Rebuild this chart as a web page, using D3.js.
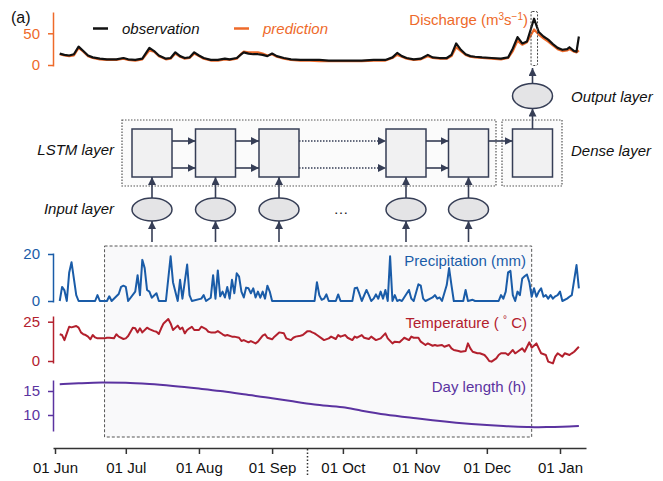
<!DOCTYPE html>
<html>
<head>
<meta charset="utf-8">
<script src="https://cdn.jsdelivr.net/npm/d3@7"></script>
<style>
  body { margin: 0; background: #fff; }
  text { font-family: "Liberation Sans", Arial, sans-serif; }
</style>
</head>
<body>
<div class="canvas"></div>
<script>
// discharge (m3/s), days counted from 01 Jun
const qDays = [2,4,6,8,10,12,14,16,19,22,26,29,31,34,37,40,42,44,47,49,51,53,55,57,59,61,63,66,69,72,74,77,79,80,82,84,86,88,90,92,94,97,100,104,108,112,116,120,125,130,135,140,143,145,147,149,152,155,158,160,163,166,168,170,172,174,176,178,181,185,189,192,194,196,198,200,203,205,207,209,211,213,215,217,218,220,221,222]
const qObs = [18,16,15,17,29,22,15,12,10,9,9,11,9,8,10,27,22,15,10,11,20,14,11,12,20,15,11,8,8,10,9,11,17,20,18,17,17,16,14,18,14,11,9,8,8,8,7,7,7,7,8,8,12,19,14,11,9,10,16,12,11,11,16,34,24,17,14,13,12,11,10,12,26,44,34,37,73,52,45,40,33,27,24,25,28,22,21,45]
const qPred = [17,15,14,15,27,21,14,11,9,8,8,10,8,7,9,23,21,14,9,10,18,13,10,11,18,14,10,7,7,9,8,10,18,21,20,20,20,18,15,17,13,10,8,7,7,6,6,6,6,6,7,7,11,16,13,10,8,9,14,11,10,10,14,28,22,16,13,12,11,10,9,11,22,38,32,36,56,48,42,37,31,25,22,23,25,21,20,23]

// precipitation (mm)
const pDays = [2,3,4,5,6,7,9,10,17,18,19,22,23,24,27,28,29,30,31,34,35,36,37,38,39,40,41,43,44,47,49,50,52,53,54,56,57,58,62,63,64,66,67,68,69,70,71,72,73,74,75,76,77,78,79,80,81,82,83,84,85,86,87,88,89,90,91,92,110,111,112,113,114,115,116,119,120,121,126,127,128,129,130,132,133,134,135,136,137,138,139,140,141,142,143,144,145,146,147,150,151,152,154,155,156,157,159,160,161,162,163,164,166,167,168,169,173,174,175,177,178,188,189,190,191,192,193,194,195,196,197,198,199,200,201,202,203,204,205,206,207,208,209,210,211,212,213,214,215,217,218,219,221,222]
const pVals = [0,6,4.5,0,12,16.5,2.5,0,0,2.5,0,0,2,0,3,6,6.5,6,0,4,11,2.5,17.5,14,4.7,4,1.4,3.3,0,0,19,8,0,9,1,15.5,2.5,0,1,2.5,0,1.4,11,1,13,2,4,1.5,6,1,9,3.3,11.8,10.4,4,1.5,5.7,5.4,3.3,5.4,1.5,4,1.4,4,1,6.5,4,0,0,8,2.5,0.5,1,2.8,0,0,2.8,0,0,5.4,5.7,3,0,4.7,2.5,0,1,2.8,1,4,1,4.7,0,19,0,2.5,0,0.5,0,4.7,1,0,7.1,6.5,1,0,1,1.5,2.5,1,1.5,0,6.8,14,6.8,0,0,4.7,0,0.5,0,0,2.5,1,4,12.2,12.8,2.5,0,4,2.5,9.6,10.5,11.3,8,1.8,5.4,1.8,4,5.4,1.8,2.5,1,2.5,1,2,2.5,4,0,1,1.8,2.5,15.3,5.4]

// temperature (deg C)
const tDays = [2,3,4,5,6,7,9,10,11,12,13,14,15,16,17,18,19,21,22,23,25,26,27,29,30,31,33,34,35,36,37,39,40,42,43,44,45,46,48,49,50,52,53,54,55,56,57,58,59,61,62,64,65,66,68,69,71,72,73,75,76,78,79,80,82,83,85,86,88,89,90,92,93,95,97,98,100,101,102,104,105,107,108,109,110,111,113,114,116,117,119,120,121,123,124,126,127,128,130,131,133,134,136,138,140,141,143,144,146,147,148,150,151,152,154,155,157,158,160,161,162,164,165,167,168,169,171,172,174,175,176,177,179,180,182,183,184,185,187,188,189,191,192,194,195,196,198,199,201,202,204,205,206,208,209,211,212,213,215,216,218,219,220,222]
const tVals = [17,16.5,13.3,17.6,21.8,21.4,22.3,21.2,18.2,17,16.5,15.5,13.8,16.5,15,14.4,14.4,14.4,14.8,14.8,14.4,17,15.5,14,14.4,15.9,21.2,20.8,18.2,20.8,18.2,21.2,20.3,19,18.6,17.2,20.8,23.9,26.7,23.9,19.7,22.5,20.3,21.2,17.6,19.7,20.8,21.8,19.7,19.7,21.8,20.3,18.6,18.2,18.2,19,17,16.1,16.5,15.5,15.5,14.8,12.7,13.3,11.9,12.7,11.2,12.3,16.1,17,14.8,13.8,15.5,18.2,17.6,14.4,13.3,14.8,15.5,16.1,16.5,19,19,18.2,17.6,16.5,14.4,13.3,14.4,15.5,14,16.5,15.5,16.5,14.8,13.3,15.5,14.8,16.5,14.8,14,15.5,13.3,14.4,17.6,14.4,11.2,12.3,11.9,13.3,14.8,13.3,15.5,14.8,14.8,12.3,10.2,11.2,9.7,10.2,9.7,10.2,9.1,10.2,8,7,6.4,5.9,6.4,11.2,8,5.9,4.9,4.9,3.8,2.1,0,-0.4,1.7,3.8,4.9,4.9,3.8,7,4.9,5.9,8,5.9,11.9,8.5,11.2,8,4.9,3.8,-0.4,-1.5,2.8,4.9,2.8,4.9,3.8,4.9,5.9,9.1]

// day length (h)
const dlDays = [2,10,20,30,40,50,61,70,80,92,100,110,122,130,140,153,160,170,183,190,200,205,210,215,222]
const dlVals = [16.4,16.6,16.75,16.7,16.45,16.05,15.5,15.0,14.3,13.5,12.9,12.2,11.6,10.9,10.1,9.3,8.9,8.4,7.9,7.7,7.5,7.45,7.5,7.55,7.7]

const monthTicks = ["2018-06-01","2018-07-01","2018-08-01","2018-09-01","2018-10-01","2018-11-01","2018-12-01","2019-01-01"]
const windowDays = [21, 202]   // input window (shaded box)
const targetDay = 203          // predicted day
const splitDay = 107           // dotted split below the axis

const cOrange = '#ee6a2a', cBlue = '#1a5ca8', cRed = '#b3202d', cPurple = '#5b33a0', cDiag = '#363e56'

const start = new Date(2018, 5, 1)
const toDate = d => d3.timeDay.offset(start, d)
const parse = d3.timeParse('%Y-%m-%d')

const x = d3.scaleTime()
    .domain([start, new Date(2019, 0, 1)])
    .range([55, 560])
const xAxisScale = x.copy().domain([x.invert(53), x.invert(586)]).range([53, 586])

const svg = d3.select('.canvas').append('svg')
    .attr('width', 663)
    .attr('height', 481)
    .style('background', '#fff')

svg.append('defs').append('marker')
    .attr('id', 'arr')
    .attr('viewBox', '0 0 10 10')
    .attr('refX', 10).attr('refY', 5)
    .attr('markerUnits', 'userSpaceOnUse')
    .attr('markerWidth', 8).attr('markerHeight', 8)
    .attr('orient', 'auto')
  .append('path')
    .attr('d', 'M0,0L10,5L0,10z')
    .attr('fill', cDiag)

// shaded input window
svg.append('rect')
    .attr('x', x(toDate(windowDays[0])))
    .attr('y', 246)
    .attr('width', x(toDate(windowDays[1])) - x(toDate(windowDays[0])))
    .attr('height', 191)
    .attr('fill', '#f9f9fa')
    .attr('stroke', '#555')
    .attr('stroke-width', 1)
    .attr('stroke-dasharray', '3,2')

// helper for a left axis
function leftAxis(scale, lo, hi, ticks, color) {
    const s = scale.copy().domain([scale.invert(hi), scale.invert(lo)]).range([hi, lo])
    const g = svg.append('g')
        .attr('transform', 'translate(53,0)')
        .call(d3.axisLeft(s).tickValues(ticks).tickSize(5).tickSizeOuter(0).tickPadding(8))
    g.select('.domain').attr('stroke', color).attr('stroke-width', 1.5)
    g.selectAll('.tick line').attr('stroke', color).attr('stroke-width', 1.5)
    g.selectAll('.tick text').attr('fill', color).style('font-size', '15px').style('font-family', '"Liberation Sans", Arial, sans-serif')
}

// ---------- discharge ----------
const yQ = d3.scaleLinear().domain([0, 50]).range([65, 33.3])
leftAxis(yQ, 12, 66, [0, 50], cOrange)

const lineQ = vals => d3.line()
    .x((d, i) => x(toDate(qDays[i])))
    .y(d => yQ(d))(vals)

svg.append('path').attr('d', lineQ(qPred))
    .attr('fill', 'none').attr('stroke', cOrange).attr('stroke-width', 2.2).attr('stroke-linejoin', 'round')
svg.append('path').attr('d', lineQ(qObs))
    .attr('fill', 'none').attr('stroke', '#111').attr('stroke-width', 2.2).attr('stroke-linejoin', 'round')

svg.append('rect')
    .attr('x', x(toDate(targetDay)) - 3)
    .attr('y', 11.5)
    .attr('width', 6.5)
    .attr('height', 54)
    .attr('rx', 1.5)
    .attr('fill', 'none')
    .attr('stroke', '#444')
    .attr('stroke-width', 1)
    .attr('stroke-dasharray', '2,1.5')

// legend
svg.append('line').attr('x1', 93).attr('x2', 108).attr('y1', 28.5).attr('y2', 28.5).attr('stroke', '#111').attr('stroke-width', 2.5)
svg.append('text').attr('x', 122).attr('y', 34).text('observation')
    .attr('fill', '#111').style('font-style', 'italic').style('font-size', '15px')
svg.append('line').attr('x1', 234).attr('x2', 249).attr('y1', 28.5).attr('y2', 28.5).attr('stroke', cOrange).attr('stroke-width', 2.5)
svg.append('text').attr('x', 263).attr('y', 34).text('prediction')
    .attr('fill', cOrange).style('font-style', 'italic').style('font-size', '15px')

const qLab = svg.append('text').attr('x', 528).attr('y', 25).attr('text-anchor', 'end')
    .attr('fill', cOrange).style('font-size', '15px')
qLab.append('tspan').text('Discharge (m')
qLab.append('tspan').text('3').attr('baseline-shift', 'super').style('font-size', '10px')
qLab.append('tspan').text('s')
qLab.append('tspan').text('−1').attr('baseline-shift', 'super').style('font-size', '10px')
qLab.append('tspan').text(')')

svg.append('text').attr('x', 11).attr('y', 23).text('(a)')
    .attr('fill', '#111').style('font-size', '16px')

// ---------- network schematic ----------
const cellX = [152, 215.5, 279, 406, 468.5]
const denseX = 532.5
const cellTop = 129, cellH = 48, cellW = 40

function arrow(x1, y1, x2, y2, dotted) {
    svg.append('line')
        .attr('x1', x1).attr('y1', y1).attr('x2', x2).attr('y2', y2)
        .attr('stroke', cDiag).attr('stroke-width', dotted ? 1.3 : 1.6)
        .attr('stroke-dasharray', dotted ? '1.5,1.5' : null)
        .attr('marker-end', 'url(#arr)')
}

svg.append('rect').attr('x', 122).attr('y', 120).attr('width', 374).attr('height', 66)
    .attr('fill', '#fbfbfb').attr('stroke', '#555').attr('stroke-width', 1.2).attr('stroke-dasharray', '1.5,1.5')
svg.append('rect').attr('x', 502).attr('y', 120).attr('width', 60).attr('height', 66)
    .attr('fill', '#fbfbfb').attr('stroke', '#555').attr('stroke-width', 1.2).attr('stroke-dasharray', '1.5,1.5')

cellX.concat([denseX]).forEach(cx => {
    svg.append('rect')
        .attr('x', cx - cellW / 2).attr('y', cellTop).attr('width', cellW).attr('height', cellH)
        .attr('fill', '#f1f1f2').attr('stroke', cDiag).attr('stroke-width', 1.5)
})

cellX.forEach((cx, i) => {
    svg.append('ellipse').attr('cx', cx).attr('cy', 209.5).attr('rx', 20).attr('ry', 11.5)
        .attr('fill', '#e4e4e6').attr('stroke', cDiag).attr('stroke-width', 1.5)
    arrow(cx, 198, cx, cellTop + cellH)
    arrow(cx, 242, cx, 221)
    if (i < cellX.length - 1) {
        const dotted = i === 2
        ;[141, 168].forEach(yy => arrow(cx + cellW / 2, yy, cellX[i + 1] - cellW / 2, yy, dotted))
    }
})
arrow(cellX[4] + cellW / 2, 141, denseX - cellW / 2, 141)

svg.append('ellipse').attr('cx', denseX).attr('cy', 96).attr('rx', 20).attr('ry', 12.5)
    .attr('fill', '#e4e4e6').attr('stroke', cDiag).attr('stroke-width', 1.5)
arrow(denseX, cellTop, denseX, 108.5)
arrow(denseX, 83.5, denseX, 68)

svg.append('text').attr('x', 341).attr('y', 214).attr('text-anchor', 'middle').text('…')
    .attr('fill', '#222').style('font-size', '15px')

const layerLab = [
    ['Output layer', 571, 102, 'start'],
    ['Dense layer', 571, 156, 'start'],
    ['LSTM layer', 114, 155, 'end'],
    ['Input layer', 114, 214, 'end']
]
layerLab.forEach(l => {
    svg.append('text').attr('x', l[1]).attr('y', l[2]).attr('text-anchor', l[3]).text(l[0])
        .attr('fill', '#111').style('font-style', 'italic').style('font-size', '15px')
})

// ---------- precipitation ----------
const yP = d3.scaleLinear().domain([0, 20]).range([301, 254])
leftAxis(yP, 253, 302, [0, 20], cBlue)
svg.append('path')
    .attr('d', d3.line().x((d, i) => x(toDate(pDays[i]))).y(d => yP(d))(pVals))
    .attr('fill', 'none').attr('stroke', cBlue).attr('stroke-width', 2).attr('stroke-linejoin', 'round')
svg.append('text').attr('x', 526).attr('y', 266).attr('text-anchor', 'end').text('Precipitation (mm)')
    .attr('fill', cBlue).style('font-size', '15px')

// ---------- temperature ----------
const yT = d3.scaleLinear().domain([0, 25]).range([361, 321.7])
leftAxis(yT, 316, 363, [0, 25], cRed)
svg.append('path')
    .attr('d', d3.line().x((d, i) => x(toDate(tDays[i]))).y(d => yT(d))(tVals))
    .attr('fill', 'none').attr('stroke', cRed).attr('stroke-width', 2).attr('stroke-linejoin', 'round')
const tLab = svg.append('text').attr('x', 527).attr('y', 328).attr('text-anchor', 'end')
    .attr('fill', cRed).style('font-size', '15px')
tLab.append('tspan').text('Temperature ( ')
tLab.append('tspan').text('°').attr('baseline-shift', 'super').style('font-size', '10px')
tLab.append('tspan').text(' C)')

// ---------- day length ----------
const yD = d3.scaleLinear().domain([10, 15]).range([415, 391])
leftAxis(yD, 380, 431, [10, 15], cPurple)
svg.append('path')
    .attr('d', d3.line().curve(d3.curveMonotoneX).x((d, i) => x(toDate(dlDays[i]))).y(d => yD(d))(dlVals))
    .attr('fill', 'none').attr('stroke', cPurple).attr('stroke-width', 2)
svg.append('text').attr('x', 526).attr('y', 392).attr('text-anchor', 'end').text('Day length (h)')
    .attr('fill', cPurple).style('font-size', '15px')

// ---------- time axis ----------
const gx = svg.append('g')
    .attr('transform', 'translate(0,448)')
    .call(d3.axisBottom(xAxisScale)
        .tickValues(monthTicks.map(parse))
        .tickFormat(d3.timeFormat('%d %b'))
        .tickSize(6).tickSizeOuter(0).tickPadding(8))
gx.select('.domain').attr('stroke', '#333').attr('stroke-width', 1.5)
gx.selectAll('.tick line').attr('stroke', '#333').attr('stroke-width', 1.5)
gx.selectAll('.tick text').attr('fill', '#111').style('font-size', '15px').style('font-family', '"Liberation Sans", Arial, sans-serif')

svg.append('line')
    .attr('x1', x(toDate(splitDay))).attr('x2', x(toDate(splitDay)))
    .attr('y1', 449).attr('y2', 477)
    .attr('stroke', '#333').attr('stroke-width', 1.5).attr('stroke-dasharray', '1.5,2')
</script>
</body>
</html>
